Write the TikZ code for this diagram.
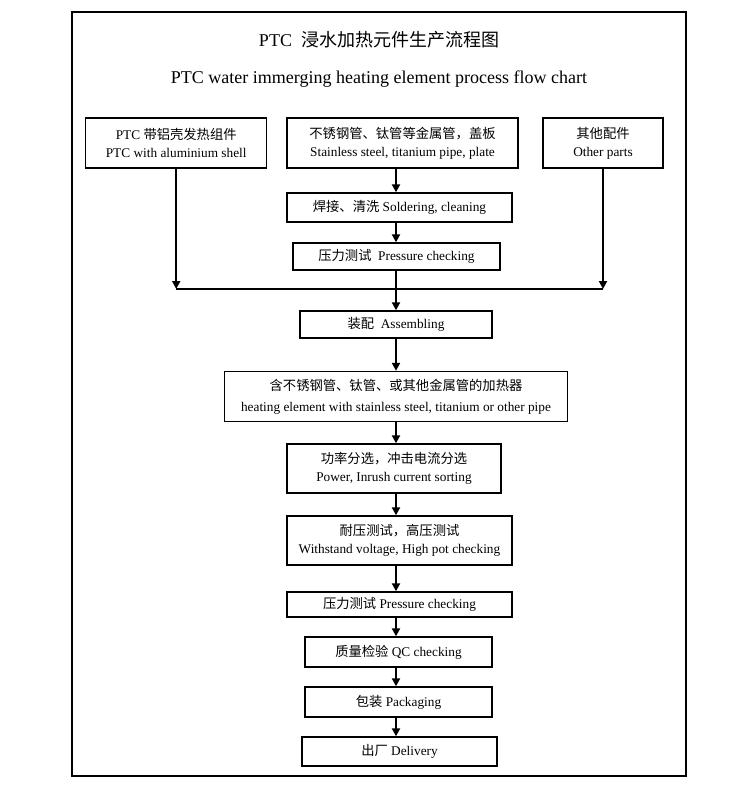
\documentclass[tikz,border=0pt]{standalone}
\usepackage{fontspec}
\setmainfont{Liberation Serif}
\newfontfamily\cjk{Noto Sans CJK SC}
\usetikzlibrary{arrows.meta}
\newcommand{\zh}[1]{{\cjk #1}}

\begin{document}
\begin{tikzpicture}[x=1pt,y=-1pt,
    box/.style={draw,line width=1.4pt,align=center,inner sep=0pt,
        font=\fontsize{13.3}{18}\selectfont},
    arr/.style={line width=2.4pt,-{Triangle[length=8pt,width=8pt]}},
    feed/.style={line width=2pt,-{Triangle[length=8pt,width=8pt]}},
    title/.style={font=\fontsize{18}{22}\selectfont}]
    \useasboundingbox (0,0) rectangle (750,793);
    \draw[line width=1.4pt] (72,12) rectangle (686,776);
    \node[title] (t1) at (379,40) {PTC\ \ \zh{浸水加热元件生产流程图}};
    \node[title] (t2) at (379,79) {PTC water immerging heating element process flow chart};
    \node[box,minimum width=181,minimum height=50] (ptc) at (176.2,143) {PTC \zh{带铝壳发热组件}\\PTC with aluminium shell};
    \node[box,minimum width=231,minimum height=50] (pipe) at (402.5,143) {\zh{不锈钢管、钛管等金属管，盖板}\\Stainless steel, titanium pipe, plate};
    \node[box,minimum width=120,minimum height=50] (other) at (603,143) {\zh{其他配件}\\Other parts};
    \node[box,minimum width=225,minimum height=29] (weld) at (399.5,207.5) {\zh{焊接、清洗} Soldering, cleaning};
    \node[box,minimum width=207,minimum height=27] (press1) at (396.5,256.5) {\zh{压力测试}\ \ Pressure checking};
    \node[box,minimum width=192,minimum height=27] (assy) at (396,324.5) {\zh{装配}\ \ Assembling};
    \node[box,minimum width=342.6,minimum height=50,font=\fontsize{13.3}{21}\selectfont] (heater) at (396,396.5) {\zh{含不锈钢管、钛管、或其他金属管的加热器}\\heating element with stainless steel, titanium or other pipe};
    \node[box,minimum width=214,minimum height=49] (sort) at (394,468.5) {\zh{功率分选，冲击电流分选}\\Power, Inrush current sorting};
    \node[box,minimum width=225,minimum height=49] (hipot) at (399.5,540.5) {\zh{耐压测试，高压测试}\\Withstand voltage, High pot checking};
    \node[box,minimum width=225,minimum height=25] (press2) at (399.5,604.5) {\zh{压力测试} Pressure checking};
    \node[box,minimum width=187,minimum height=30] (qc) at (398.5,652) {\zh{质量检验} QC checking};
    \node[box,minimum width=187,minimum height=30] (pack) at (398.5,702) {\zh{包装} Packaging};
    \node[box,minimum width=195,minimum height=29] (deliv) at (399.5,751.5) {\zh{出厂} Delivery};
    \coordinate (axis) at (396,0);
    \coordinate (bus) at (0,289);
    \draw[line width=1.4pt] (ptc.south |- bus) -- (other.south |- bus);
    \draw[feed] (ptc.south) -- (ptc.south |- bus);
    \draw[feed] (other.south) -- (other.south |- bus);
    \draw[arr] (pipe.south -| axis) -- (weld.north -| axis);
    \draw[arr] (weld.south -| axis) -- (press1.north -| axis);
    \draw[arr] (press1.south -| axis) -- (assy.north -| axis);
    \foreach \a/\b in {assy/heater,heater/sort,sort/hipot,hipot/press2,press2/qc,qc/pack,pack/deliv}
        \draw[arr] (\a.south -| axis) -- (\b.north -| axis);
\end{tikzpicture}
\end{document}
